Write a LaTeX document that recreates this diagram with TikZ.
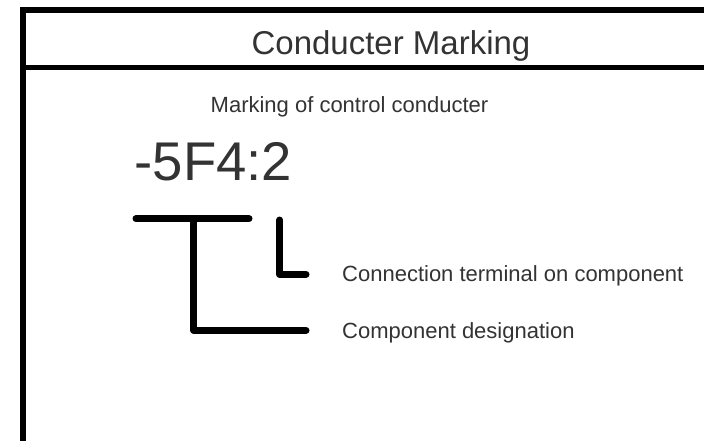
\documentclass[tikz,border=0pt]{standalone}
\usepackage{fontspec}
\setmainfont{Liberation Sans}
\definecolor{txt}{HTML}{333333}
\begin{document}
\begin{tikzpicture}[x=1pt,y=-1pt,
  thickline/.style={line width=7pt,line cap=round,line join=round,black},
  framel/.style={line width=6.5pt,black},
  lbl/.style={inner sep=0pt,text=txt}]
\useasboundingbox (0,0) rectangle (704,440);
\clip (0,0) rectangle (704,440);
\fill[white] (0,0) rectangle (704,440);
% frame
\draw[framel] (23,460) -- (23,10) -- (730,10);
\draw[line width=5pt,black] (23,67.5) -- (730,67.5);
% texts
\node[lbl,anchor=base,font=\fontsize{33}{36}\selectfont] (title) at (391,54) {Conducter Marking};
\node[lbl,anchor=base,font=\fontsize{22}{24}\selectfont] (sub) at (349.5,112.5) {Marking of control conducter};
\node[lbl,anchor=base west,font=\fontsize{54.5}{58}\selectfont] (code) at (134.5,180) {-5F4:2};
\node[lbl,anchor=base west,font=\fontsize{22}{24}\selectfont] (term) at (342,281) {Connection terminal on component};
\node[lbl,anchor=base west,font=\fontsize{22}{24}\selectfont] (desig) at (342,338) {Component designation};
% brackets
\coordinate (barL) at (136,218.7);
\coordinate (barR) at (249,218.7);
\coordinate (vtop) at (193.7,218.7);
\coordinate (vbot) at (193.7,330.3);
\coordinate (dend) at (306,330.3);
\coordinate (ltop) at (279.7,220);
\coordinate (lbot) at (279.7,274.3);
\coordinate (tend) at (306,274.3);
\draw[thickline] (barL) -- (barR);
\draw[thickline] (vtop) -- (vbot) -- (dend);
\draw[thickline] (ltop) -- (lbot) -- (tend);
\end{tikzpicture}
\end{document}
